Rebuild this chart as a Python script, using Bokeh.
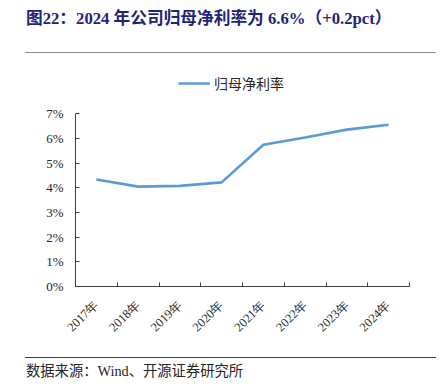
from bokeh.plotting import figure
from bokeh.models import (Range1d, FixedTicker, Legend, LegendItem, CustomJSTickFormatter,
                          PrintfTickFormatter, Div)
from bokeh.layouts import column
from bokeh.embed import file_html
from bokeh.resources import INLINE

# ---- data ----
years = ["2017年", "2018年", "2019年", "2020年", "2021年", "2022年", "2023年", "2024年"]
net_margin_pct = [4.34, 4.05, 4.08, 4.22, 5.75, 6.04, 6.36, 6.56]
y_ticks = [0, 1, 2, 3, 4, 5, 6, 7]
series_name = "归母净利率"
title_text = "图22：2024 年公司归母净利率为 6.6%（+0.2pct）"
source_text = "数据来源：Wind、开源证券研究所"

SERIF = "Liberation Serif"
CJK = "Noto Sans CJK SC"
W = 436

# ---- header ----
header = Div(width=W, height=60, margin=(0, 0, 0, 0), text=(
    '<div style="position:relative;width:436px;height:60px;">'
    '<div style="position:absolute;left:26px;top:7.5px;white-space:nowrap;line-height:22px;'
    "font-family:'Liberation Serif','Noto Sans CJK SC',serif;font-size:16.7px;font-weight:bold;"
    'color:#1E2478;">' + title_text + '</div>'
    '<div style="position:absolute;left:25px;top:52px;width:411px;height:0;'
    'border-top:1.5px solid #8c8c8c;"></div>'
    '</div>'))

# ---- main chart ----
n = len(years)
xs = [i + 0.5 for i in range(n)]
p = figure(width=W, height=285, x_range=Range1d(0, n), y_range=Range1d(0, 9),
           toolbar_location=None, output_backend="svg",
           min_border_left=75, min_border_right=27, min_border_top=4, min_border_bottom=59)
p.outline_line_color = None
p.grid.visible = False
r = p.line(xs, net_margin_pct, line_color="#5B9BD5", line_width=2.6)

p.xaxis.ticker = FixedTicker(ticks=xs, minor_ticks=list(range(n + 1)))
p.xaxis.formatter = CustomJSTickFormatter(args=dict(labels=years),
                                          code="return labels[Math.round(tick - 0.5)] || '';")
p.xaxis.major_tick_line_color = None
p.xaxis.minor_tick_in = 4
p.xaxis.minor_tick_out = 0
p.xaxis.minor_tick_line_color = "#404040"
p.xaxis.major_label_orientation = 0.785398
p.xaxis.major_label_standoff = 10
p.xaxis.major_label_text_font = SERIF
p.xaxis.major_label_text_font_size = "12.5px"
p.xaxis.major_label_text_color = "#262626"

p.yaxis.ticker = FixedTicker(ticks=y_ticks, minor_ticks=[])
p.yaxis.formatter = PrintfTickFormatter(format="%d%%")
p.yaxis.bounds = (0, 7)
p.yaxis.major_tick_in = 4
p.yaxis.major_tick_out = 0
p.yaxis.major_tick_line_color = "#404040"
p.yaxis.major_label_standoff = 12
p.yaxis.major_label_text_font = SERIF
p.yaxis.major_label_text_font_size = "13px"
p.yaxis.major_label_text_color = "#262626"

for ax in (p.xaxis, p.yaxis):
    ax.axis_line_color = "#404040"
    ax.axis_line_width = 1

legend = Legend(items=[LegendItem(label=series_name, renderers=[r])],
                location=(103, 193), padding=0, margin=0, spacing=0,
                glyph_width=32, glyph_height=14, label_height=14, label_standoff=4,
                label_text_font=CJK, label_text_font_size="14px", label_text_color="#262626",
                border_line_color=None, background_fill_alpha=0)
p.add_layout(legend)

# ---- footer ----
footer = Div(width=W, height=39, margin=(0, 0, 0, 0), text=(
    '<div style="position:relative;width:436px;height:39px;">'
    '<div style="position:absolute;left:25px;top:12px;width:411px;height:0;'
    'border-top:1px solid #404040;"></div>'
    '<div style="position:absolute;left:26px;top:15.5px;white-space:nowrap;line-height:20px;'
    "font-family:'Liberation Serif','Noto Sans CJK SC',serif;font-size:14.3px;"
    'color:#262626;">' + source_text + '</div>'
    '</div>'))

layout = column(header, p, footer, spacing=0)
open("out.html", "w").write(file_html(layout, INLINE))
